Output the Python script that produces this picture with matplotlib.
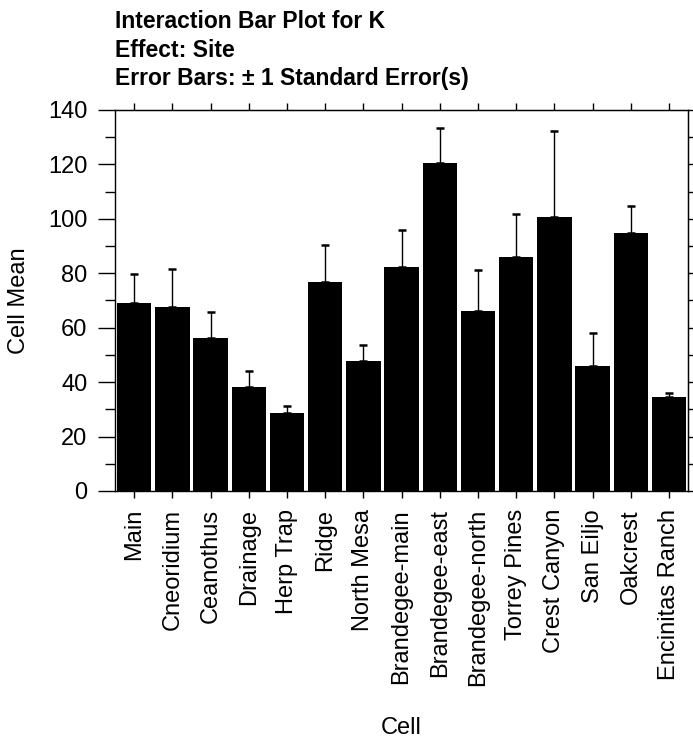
import numpy as np
import matplotlib.pyplot as plt
from matplotlib.ticker import MultipleLocator

plt.rcParams['font.family'] = ['Liberation Sans', 'DejaVu Sans']

# Cell means of K by site, with +1 standard error
sites = ['Main', 'Cneoridium', 'Ceanothus', 'Drainage', 'Herp Trap', 'Ridge',
         'North Mesa', 'Brandegee-main', 'Brandegee-east', 'Brandegee-north',
         'Torrey Pines', 'Crest Canyon', 'San Eiljo', 'Oakcrest', 'Encinitas Ranch']
means = [69.0, 67.7, 56.1, 38.3, 28.6, 76.6, 47.9, 82.2, 120.5, 66.3,
         86.0, 100.8, 45.8, 94.8, 34.7]
std_err = [10.6, 13.8, 9.8, 5.8, 2.6, 13.6, 5.9, 13.7, 12.7, 14.7,
           15.8, 31.3, 12.4, 9.8, 1.2]

x = np.arange(len(sites))

fig = plt.figure(figsize=(6.93, 7.4), dpi=100)
ax = fig.add_axes([0.166, 0.3365, 0.827, 0.515])

ax.bar(x, means, width=0.9, color='black', zorder=2)
ax.errorbar(x, means, yerr=[np.zeros(len(x)), std_err], fmt='none',
            ecolor='black', elinewidth=1, capsize=3, capthick=1.8, zorder=1)

ax.set_xlim(-0.5, len(sites) - 0.5)
ax.set_ylim(0, 140)
ax.set_xticks(x)
ax.set_xticklabels(sites, rotation=90, fontsize=17)
ax.yaxis.set_major_locator(MultipleLocator(20))
ax.yaxis.set_minor_locator(MultipleLocator(10))
ax.tick_params(axis='y', which='major', length=12, width=1, labelsize=17, pad=8)
ax.tick_params(axis='y', which='minor', length=7, width=1)
ax.tick_params(axis='x', length=5, width=1, pad=8)
for s in ax.spines.values():
    s.set_linewidth(1)

# small ticks on the top and right frame
top = ax.secondary_xaxis('top')
top.set_xticks(x)
top.tick_params(length=5, width=1, labeltop=False)
right = ax.secondary_yaxis('right')
right.yaxis.set_major_locator(MultipleLocator(10))
right.tick_params(length=5, width=1, labelright=False)

ax.set_ylabel('Cell Mean', fontsize=17)
ax.yaxis.set_label_coords(-0.148, 0.5)
ax.set_xlabel('Cell', fontsize=17)
ax.xaxis.set_label_coords(0.5, -0.593)

fig.text(0.166, 0.962, 'Interaction Bar Plot for K', fontsize=16.5, fontweight='bold', va='baseline')
fig.text(0.166, 0.923, 'Effect: Site', fontsize=16.5, fontweight='bold', va='baseline')
fig.text(0.166, 0.885, 'Error Bars: \u00b1 1 Standard Error(s)', fontsize=16.5, fontweight='bold', va='baseline')

fig.savefig('out.png', dpi=100)
